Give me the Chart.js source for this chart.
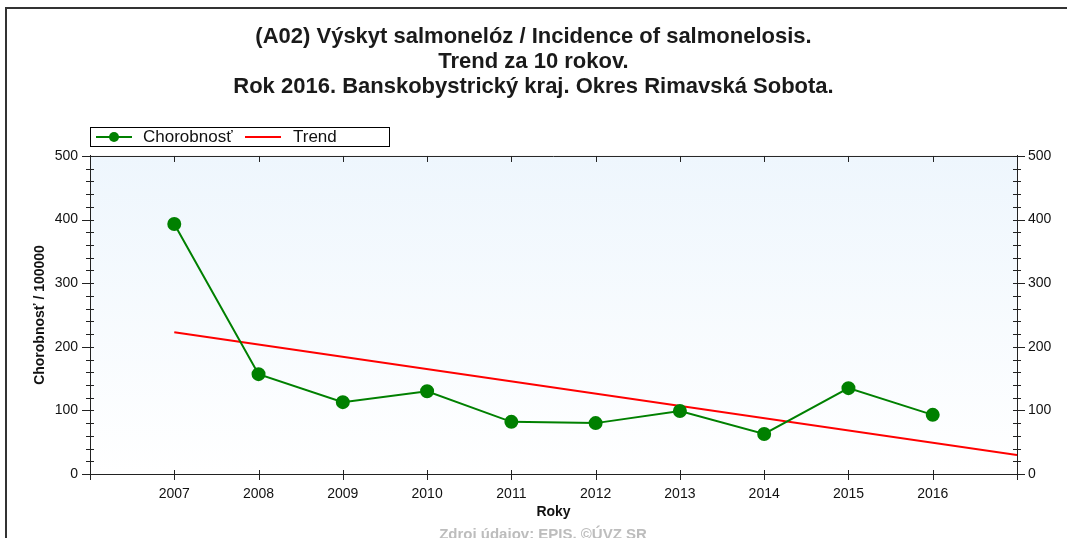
<!DOCTYPE html>
<html>
<head>
<meta charset="utf-8">
<script src="https://cdn.jsdelivr.net/npm/chart.js@4"></script>
<style>
  body { margin: 0; background: #fff; }
  #wrap { width: 1067px; height: 538px; }
</style>
</head>
<body>
<div id="wrap"><canvas id="salmonelozaChart" width="1067" height="538"></canvas></div>
<script>
var titleLines = [
    "(A02) Výskyt salmonelóz / Incidence of salmonelosis.",
    "Trend za 10 rokov.",
    "Rok 2016. Banskobystrický kraj. Okres Rimavská Sobota."
];
var years = [2007, 2008, 2009, 2010, 2011, 2012, 2013, 2014, 2015, 2016];
var chorobnost = [393, 157, 113, 130, 82, 80, 99, 63, 135, 93];
var trendYears = [2007, 2017];
var trendValues = [223, 30];
var yTicks = [0, 100, 200, 300, 400, 500];
var sourceText = "Zdroj údajov: EPIS, ©ÚVZ SR";

var FONT = "'Liberation Sans', Arial, sans-serif";
var AXIS = "#222";

function toPoints(xs, ys) {
    var out = [];
    for (var i = 0; i < xs.length; i += 1) {
        out.push({x: xs[i], y: ys[i]});
    }
    return out;
}

// background, frame, tick marks, legend box, source line
var decorPlugin = {
    id: 'decor',
    beforeDraw: function(chart) {
        var ctx = chart.ctx, a = chart.chartArea;
        ctx.save();
        ctx.fillStyle = '#fff';
        ctx.fillRect(0, 0, chart.width, chart.height);
        var g = ctx.createLinearGradient(0, a.top, 0, a.bottom);
        g.addColorStop(0, '#eef6fd');
        g.addColorStop(1, '#ffffff');
        ctx.fillStyle = g;
        ctx.fillRect(a.left, a.top, a.right - a.left, a.bottom - a.top);
        ctx.restore();
    },
    afterDraw: function(chart) {
        var ctx = chart.ctx, a = chart.chartArea;
        var xs = chart.scales.x, ys = chart.scales.y;
        ctx.save();
        // outer frame
        ctx.strokeStyle = '#333';
        ctx.lineWidth = 2;
        ctx.beginPath();
        ctx.moveTo(6, chart.height);
        ctx.lineTo(6, 8);
        ctx.lineTo(chart.width, 8);
        ctx.stroke();

        // top axis line
        ctx.strokeStyle = AXIS;
        ctx.lineWidth = 1;
        ctx.beginPath();
        ctx.moveTo(a.left, a.top + 0.5);
        ctx.lineTo(a.right, a.top + 0.5);
        ctx.stroke();

        // x ticks
        ctx.beginPath();
        for (var yr = 2006; yr <= 2017; yr += 1) {
            var px = Math.round(xs.getPixelForValue(yr)) + 0.5;
            ctx.moveTo(px, a.bottom - 4);
            ctx.lineTo(px, a.bottom + 6);
            if (yr > 2006 && yr < 2017) {
                ctx.moveTo(px, a.top);
                ctx.lineTo(px, a.top + 6);
            }
        }
        // y ticks, both sides
        for (var v = 0; v <= 500; v += 20) {
            var py = Math.round(ys.getPixelForValue(v)) + 0.5;
            var major = v % 100 === 0;
            ctx.moveTo(a.left - (major ? 8 : 4), py);
            ctx.lineTo(a.left + 4, py);
            ctx.moveTo(a.right - 4, py);
            ctx.lineTo(a.right + (major ? 8 : 4), py);
        }
        ctx.stroke();

        // legend
        var lx = a.left, ly = 127;
        ctx.fillStyle = '#fff';
        ctx.fillRect(lx, ly, 299, 19);
        ctx.strokeStyle = '#000';
        ctx.strokeRect(lx + 0.5, ly + 0.5, 299, 19);
        ctx.lineWidth = 2;
        ctx.strokeStyle = '#008000';
        ctx.beginPath();
        ctx.moveTo(lx + 6, ly + 10);
        ctx.lineTo(lx + 42, ly + 10);
        ctx.stroke();
        ctx.fillStyle = '#008000';
        ctx.beginPath();
        ctx.arc(lx + 24, ly + 10, 5, 0, Math.PI * 2);
        ctx.fill();
        ctx.strokeStyle = '#ff0000';
        ctx.beginPath();
        ctx.moveTo(lx + 155, ly + 10);
        ctx.lineTo(lx + 191, ly + 10);
        ctx.stroke();
        ctx.fillStyle = '#111';
        ctx.font = '17px ' + FONT;
        ctx.textBaseline = 'middle';
        ctx.textAlign = 'left';
        ctx.fillText(chart.data.datasets[0].label, lx + 53, ly + 10);
        ctx.fillText(chart.data.datasets[1].label, lx + 203, ly + 10);

        // source
        ctx.fillStyle = '#bdbdbd';
        ctx.font = 'bold 15px ' + FONT;
        ctx.textAlign = 'center';
        ctx.fillText(sourceText, 543, 535);
        ctx.restore();
    }
};

var canvas = document.getElementById('salmonelozaChart');
var data = {
    datasets: [
        {
            label: "Chorobnosť",
            data: toPoints(years, chorobnost),
            borderColor: "#008000",
            backgroundColor: "#008000",
            borderWidth: 2,
            pointRadius: 6,
            pointBackgroundColor: "#008000",
            pointBorderColor: "#008000",
            lineTension: 0,
            fill: false
        },
        {
            label: "Trend",
            data: toPoints(trendYears, trendValues),
            borderColor: "#ff0000",
            backgroundColor: "#ff0000",
            borderWidth: 2,
            pointRadius: 0,
            lineTension: 0,
            fill: false
        }
    ]
};

var yAxisBase = {
    min: 0,
    max: 500,
    grid: { display: false },
    border: { display: true, color: AXIS, width: 1 },
    afterBuildTicks: function(s) {
        s.ticks = yTicks.map(function(v) { return {value: v}; });
    }
};

var options = {
    responsive: false,
    animation: false,
    layout: { padding: 0 },
    plugins: {
        legend: { display: false },
        tooltip: { enabled: false },
        title: {
            display: true,
            text: titleLines,
            color: '#1a1a1a',
            font: { family: FONT, size: 22, weight: 'bold', lineHeight: 1.136 },
            padding: { top: 24, bottom: 57 }
        }
    },
    scales: {
        x: {
            type: 'linear',
            min: 2006,
            max: 2017,
            grid: { display: false },
            border: { display: true, color: AXIS, width: 1 },
            ticks: {
                stepSize: 1,
                padding: 4,
                color: '#111',
                font: { family: FONT, size: 14 },
                maxRotation: 0,
                autoSkip: false,
                callback: function(v) {
                    return (v >= years[0] && v <= years[years.length - 1]) ? String(v) : '';
                }
            },
            title: {
                display: true,
                text: 'Roky',
                color: '#111',
                font: { family: FONT, size: 14, weight: 'bold' },
                padding: { top: 2, bottom: 17 }
            },
            afterFit: function(s) { s.height = 64; }
        },
        y: Object.assign({}, yAxisBase, {
            position: 'left',
            ticks: { padding: 4, color: '#111', font: { family: FONT, size: 14 } },
            title: {
                display: true,
                text: 'Chorobnosť / 100000',
                color: '#111',
                font: { family: FONT, size: 14, weight: 'bold' },
                padding: { top: 32, bottom: 4 }
            },
            afterFit: function(s) { s.width = 90; }
        }),
        y2: Object.assign({}, yAxisBase, {
            position: 'right',
            ticks: { padding: 3, color: '#111', font: { family: FONT, size: 14 } },
            afterFit: function(s) { s.width = 50; }
        })
    }
};

var myLineChart = new Chart(canvas, {
    type: 'line',
    data: data,
    options: options,
    plugins: [decorPlugin]
});
</script>
</body>
</html>
